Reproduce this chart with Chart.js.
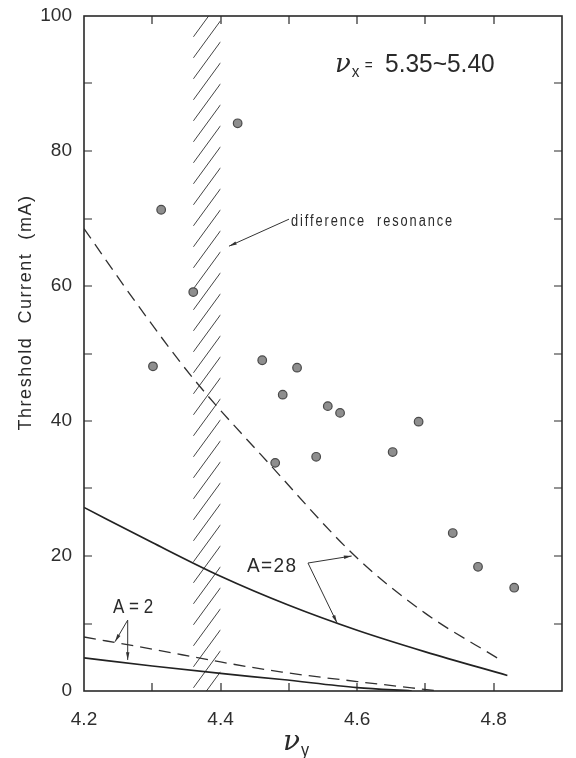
<!DOCTYPE html>
<html>
<head>
<meta charset="utf-8">
<script src="https://cdn.jsdelivr.net/npm/chart.js@4.4.1/dist/chart.umd.min.js"></script>
<style>
  html, body { margin: 0; padding: 0; background: #fff; }
  #wrap { width: 576px; height: 758px; }
</style>
</head>
<body>
<div id="wrap"><canvas id="threshold"></canvas></div>
<script>
// measured threshold currents
var nuY = [4.301, 4.313, 4.360, 4.425, 4.461, 4.480, 4.491, 4.512, 4.540, 4.557, 4.575, 4.652, 4.690, 4.740, 4.777, 4.830];
var currentMA = [48.1, 71.3, 59.1, 84.1, 49.0, 33.8, 43.9, 47.9, 34.7, 42.2, 41.2, 35.4, 39.9, 23.4, 18.4, 15.3];

// calculated curves, A=28 and A=2
var a28DashX = [4.2, 4.28, 4.36, 4.47, 4.6, 4.7, 4.81];
var a28DashY = [68.5, 57.0, 46.3, 33.8, 19.7, 11.5, 4.6];
var a28SolidX = [4.2, 4.3, 4.4, 4.5, 4.6, 4.7, 4.82];
var a28SolidY = [27.2, 22.0, 17.0, 12.7, 9.0, 5.8, 2.3];
var a2DashX = [4.2, 4.3, 4.4, 4.49, 4.6, 4.72];
var a2DashY = [8.0, 6.2, 4.3, 2.8, 1.4, 0];
var a2SolidX = [4.2, 4.3, 4.4, 4.49, 4.6, 4.68];
var a2SolidY = [4.9, 3.7, 2.6, 1.7, 0.5, 0];

// difference resonance band
var bandFrom = 4.36;
var bandTo = 4.40;

var xTicks = [4.2, 4.4, 4.6, 4.8];
var yTicks = [0, 20, 40, 60, 80, 100];

function pairs(xs, ys) {
  return xs.map(function (x, i) { return { x: x, y: ys[i] }; });
}

function curve(xs, ys, dashed) {
  return {
    data: pairs(xs, ys),
    showLine: true,
    pointRadius: 0,
    borderColor: dashed ? "#303030" : "#222",
    borderWidth: dashed ? 1.3 : 1.7,
    borderDash: dashed ? [12, 7] : [],
    cubicInterpolationMode: "monotone",
    fill: false
  };
}

function text(ctx, str, x, y, size, opt) {
  opt = opt || {};
  ctx.save();
  ctx.translate(x, y);
  if (opt.rotate) ctx.rotate(opt.rotate);
  ctx.scale(opt.sx || 1, 1);
  ctx.font = (opt.italic ? "italic " : "") + size + "px " + (opt.family || "'Liberation Sans', Arial, sans-serif");
  ctx.letterSpacing = (opt.spacing || 0) + "px";
  ctx.fillStyle = "#2a2a2a";
  ctx.textAlign = opt.align || "left";
  ctx.textBaseline = "alphabetic";
  ctx.fillText(str, 0, 0);
  var w = ctx.measureText(str).width * (opt.sx || 1);
  ctx.restore();
  return w;
}

function arrow(ctx, x0, y0, x1, y1) {
  var a = Math.atan2(y1 - y0, x1 - x0);
  ctx.save();
  ctx.strokeStyle = "#333";
  ctx.fillStyle = "#333";
  ctx.lineWidth = 1;
  ctx.beginPath();
  ctx.moveTo(x0, y0);
  ctx.lineTo(x1, y1);
  ctx.stroke();
  ctx.beginPath();
  ctx.moveTo(x1, y1);
  ctx.lineTo(x1 - 8 * Math.cos(a - 0.22), y1 - 8 * Math.sin(a - 0.22));
  ctx.lineTo(x1 - 8 * Math.cos(a + 0.22), y1 - 8 * Math.sin(a + 0.22));
  ctx.closePath();
  ctx.fill();
  ctx.restore();
}

// hatched band behind the curves
var hatch = {
  id: "hatch",
  beforeDatasetsDraw: function (chart) {
    var ctx = chart.ctx, area = chart.chartArea;
    var xs = chart.scales.x;
    var l = xs.getPixelForValue(bandFrom), r = xs.getPixelForValue(bandTo);
    ctx.save();
    ctx.beginPath();
    ctx.rect(l, area.top, r - l, area.bottom - area.top);
    ctx.clip();
    ctx.strokeStyle = "#444";
    ctx.lineWidth = 1;
    var k = 41 / 30;
    for (var y = area.bottom + 60; y > area.top - 10; y -= 21) {
      ctx.beginPath();
      ctx.moveTo(l, y);
      ctx.lineTo(r, y - (r - l) * k);
      ctx.stroke();
    }
    ctx.restore();
  }
};

// frame, inward ticks and all the labels
var decor = {
  id: "decor",
  afterDraw: function (chart) {
    var ctx = chart.ctx, area = chart.chartArea;
    var xs = chart.scales.x, ys = chart.scales.y;
    var px = function (v) { return xs.getPixelForValue(v); };
    var py = function (v) { return ys.getPixelForValue(v); };

    ctx.save();
    ctx.strokeStyle = "#2a2a2a";
    ctx.lineWidth = 1.6;
    ctx.strokeRect(area.left, area.top, area.right - area.left, area.bottom - area.top);
    ctx.lineWidth = 1.2;
    ctx.beginPath();
    for (var i = 1; i < 7; i++) {
      var x = Math.round(px(4.2 + i / 10));
      ctx.moveTo(x, area.bottom); ctx.lineTo(x, area.bottom - 8);
      ctx.moveTo(x, area.top); ctx.lineTo(x, area.top + 8);
    }
    for (var j = 1; j < 10; j++) {
      var y = Math.round(py(j * 10));
      ctx.moveTo(area.left, y); ctx.lineTo(area.left + 8, y);
      ctx.moveTo(area.right, y); ctx.lineTo(area.right - 8, y);
    }
    ctx.stroke();
    ctx.restore();

    // ν_x = 5.35~5.40
    var tx = px(4.5675), ty = py(91.7);
    var w = text(ctx, "ν", tx, ty, 26, { italic: true, family: "'DejaVu Serif', serif" });
    text(ctx, "x", tx + w + 1, ty + 5, 17, { sx: 0.9 });
    text(ctx, "=", tx + w + 14, ty - 2, 17, { sx: 0.8 });
    text(ctx, "5.35~5.40", px(4.6408), ty, 25, { sx: 0.98 });

    text(ctx, "difference  resonance", px(4.503), py(68.9), 16, { sx: 0.8, spacing: 2.4 });
    arrow(ctx, px(4.5002), py(69.9), px(4.4123), py(65.9));

    text(ctx, "A=28", px(4.4387), py(17.6), 20, { sx: 0.95, spacing: 1.5 });
    arrow(ctx, px(4.528), py(18.96), px(4.592), py(20.0));
    arrow(ctx, px(4.528), py(18.96), px(4.5705), py(10.1));

    text(ctx, "A = 2", px(4.2425), py(11.56), 20, { sx: 0.85 });
    arrow(ctx, px(4.264), py(10.5), px(4.2454), py(7.3));
    arrow(ctx, px(4.264), py(10.5), px(4.264), py(4.6));

    // axis titles
    text(ctx, "Threshold  Current  (mA)", 31, (area.top + area.bottom) / 2 - 41, 19,
      { rotate: -Math.PI / 2, align: "center", spacing: 1.6, sx: 0.95 });
    var cx = (area.left + area.right) / 2 - 40;
    var w2 = text(ctx, "ν", cx, 750, 28, { italic: true, family: "'DejaVu Serif', serif" });
    text(ctx, "y", cx + w2 + 1, 756, 18, { sx: 0.9 });
  }
};

var ctxThreshold = document.getElementById("threshold");

new Chart(ctxThreshold, {
  type: "scatter",
  data: {
    datasets: [
      {
        data: pairs(nuY, currentMA),
        pointRadius: 4.3,
        pointBackgroundColor: "#8e8e8e",
        pointBorderColor: "#4a4a4a",
        pointBorderWidth: 1.2
      },
      curve(a28DashX, a28DashY, true),
      curve(a28SolidX, a28SolidY, false),
      curve(a2DashX, a2DashY, true),
      curve(a2SolidX, a2SolidY, false)
    ]
  },
  options: {
    responsive: true,
    maintainAspectRatio: false,
    animation: false,
    layout: { padding: { top: 16, right: 14, left: 0, bottom: 0 } },
    plugins: { legend: { display: false }, tooltip: { enabled: false } },
    scales: {
      x: {
        type: "linear",
        min: 4.2,
        max: 4.9,
        grid: { display: false },
        border: { display: false },
        afterBuildTicks: function (s) { s.ticks = xTicks.map(function (v) { return { value: v }; }); },
        afterFit: function (s) { s.height = 67; },
        ticks: {
          padding: 9,
          color: "#2e2e2e",
          font: { family: "'Liberation Sans', Arial, sans-serif", size: 19 },
          callback: function (v) { return Number(v).toFixed(1); }
        }
      },
      y: {
        min: 0,
        max: 100,
        grid: { display: false },
        border: { display: false },
        afterBuildTicks: function (s) { s.ticks = yTicks.map(function (v) { return { value: v }; }); },
        afterFit: function (s) { s.width = 84; },
        ticks: {
          padding: 4,
          color: "#2e2e2e",
          font: { family: "'Liberation Sans', Arial, sans-serif", size: 19 }
        }
      }
    }
  },
  plugins: [hatch, decor]
});
</script>
</body>
</html>
